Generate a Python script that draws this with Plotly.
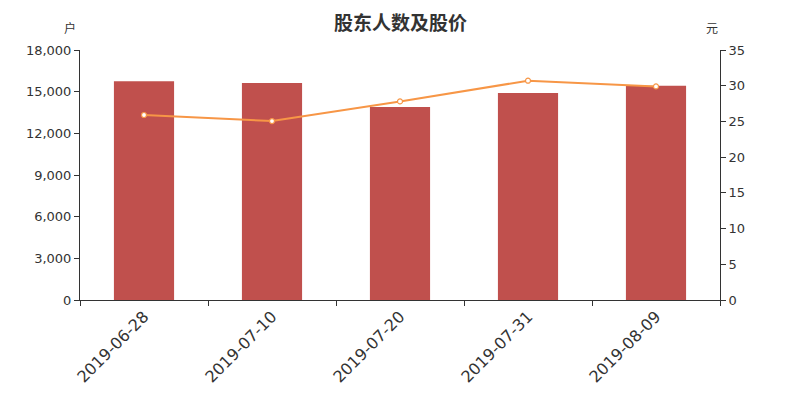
import plotly.graph_objects as go

dates = ["2019-06-28", "2019-07-10", "2019-07-20", "2019-07-31", "2019-08-09"]
holders = [15750, 15620, 13900, 14900, 15420]
prices = [25.9, 25.05, 27.8, 30.7, 29.9]
left_ticks = [0, 3000, 6000, 9000, 12000, 15000, 18000]
right_ticks = [0, 5, 10, 15, 20, 25, 30, 35]

fig = go.Figure()
fig.add_trace(go.Bar(x=dates, y=holders, marker=dict(color="#c0504d", line=dict(width=0)),
                     width=0.47, name="股东人数", yaxis="y"))
fig.add_trace(go.Scatter(x=dates, y=prices, mode="lines+markers", yaxis="y2",
                         line=dict(color="#f79646", width=2),
                         marker=dict(size=5, color="white", line=dict(color="#f79646", width=1.2)),
                         name="股价"))

font_family = "DejaVu Sans, Noto Sans CJK SC"
fig.update_layout(
    width=792, height=392,
    margin=dict(l=72, r=80, t=42, b=100),
    plot_bgcolor="white", paper_bgcolor="white",
    showlegend=False,
    font=dict(family=font_family, color="#333333", size=13),
    xaxis=dict(type="category", tickson="boundaries", ticks="outside", ticklen=5,
               tickcolor="#333", showline=True, linecolor="#333", linewidth=1,
               tickangle=-45, tickfont=dict(size=16, color="#333"), showgrid=False),
    yaxis=dict(range=[0, 18000], tickvals=left_ticks, tickformat=",", ticks="outside",
               ticklen=5, tickcolor="#333", showline=True, linecolor="#333", showgrid=False,
               zeroline=False, tickfont=dict(size=13, color="#333")),
    yaxis2=dict(range=[0, 35], tickvals=right_ticks, overlaying="y", side="right",
                ticks="outside", ticklen=5, tickcolor="#333", showline=True, linecolor="#333",
                showgrid=False, zeroline=False, tickfont=dict(size=13, color="#333")),
    annotations=[
        dict(text="股东人数及股价", xref="paper", yref="paper", x=0.5, y=1.112, showarrow=False,
             xanchor="center", yanchor="middle",
             font=dict(size=19, color="#333333", family="Noto Sans CJK SC", weight="bold")),
        dict(text="户", xref="paper", yref="paper", x=-0.003, y=1.09, showarrow=False,
             font=dict(size=12, color="#333", family="Noto Sans CJK SC"), xanchor="right", yanchor="middle"),
        dict(text="元", xref="paper", yref="paper", x=1.0, y=1.09, showarrow=False,
             font=dict(size=12, color="#333", family="Noto Sans CJK SC"), xanchor="right", yanchor="middle"),
    ],
)

fig.write_html("out.html")
